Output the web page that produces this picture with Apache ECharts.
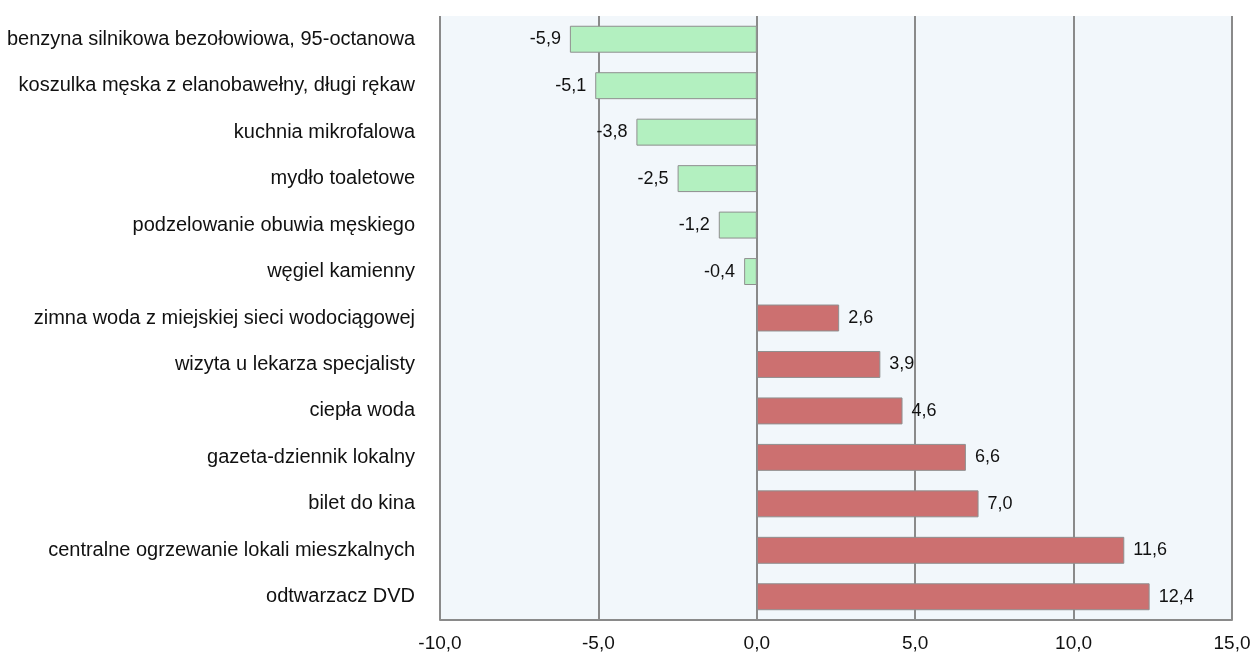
<!DOCTYPE html>
<html><head><meta charset="utf-8">
<script src="https://cdn.jsdelivr.net/npm/echarts@6/dist/echarts.min.js"></script>
<style>html,body{margin:0;padding:0;background:#fff}#c{width:1255px;height:653px}</style>
</head><body><div id="c"></div>
<script>
const categories = [
  "benzyna silnikowa bezołowiowa, 95-octanowa",
  "koszulka męska z elanobawełny, długi rękaw",
  "kuchnia mikrofalowa",
  "mydło toaletowe",
  "podzelowanie obuwia męskiego",
  "węgiel kamienny",
  "zimna woda z miejskiej sieci wodociągowej",
  "wizyta u lekarza specjalisty",
  "ciepła woda",
  "gazeta-dziennik lokalny",
  "bilet do kina",
  "centralne ogrzewanie lokali mieszkalnych",
  "odtwarzacz DVD"
];
const values = [-5.9, -5.1, -3.8, -2.5, -1.2, -0.4, 2.6, 3.9, 4.6, 6.6, 7.0, 11.6, 12.4];
const xTicks = [-10, -5, 0, 5, 10, 15];

const fmt = v => v.toFixed(1).replace('.', ',');
const chart = echarts.init(document.getElementById('c'), null, {renderer: 'canvas'});
chart.setOption({
  animation: false,
  grid: {left: 440, right: 23, top: 16, bottom: 33, show: true, backgroundColor: '#f2f7fb', borderWidth: 0},
  xAxis: {
    type: 'value', min: xTicks[0], max: xTicks[xTicks.length - 1], interval: 5,
    axisLine: {show: true, lineStyle: {color: '#8a8a8a', width: 2}},
    axisTick: {show: false},
    splitLine: {show: true, lineStyle: {color: '#8a8a8a', width: 2}},
    axisLabel: {formatter: v => fmt(v), color: '#111', fontSize: 19, fontFamily: 'Liberation Sans', margin: 14}
  },
  yAxis: {
    type: 'category', data: categories, inverse: true,
    axisLine: {show: false}, axisTick: {show: false}, splitLine: {show: false},
    axisLabel: {color: '#111', fontSize: 20, fontFamily: 'Liberation Sans', margin: 25}
  },
  series: [{
    type: 'bar', barCategoryGap: '42%',
    data: values.map(v => ({
      value: v,
      itemStyle: {color: v < 0 ? '#b3f0c0' : '#cc7070', borderColor: '#8f8f8f', borderWidth: 1},
      label: {show: true, position: v < 0 ? 'left' : 'right', formatter: () => fmt(v), color: '#111', fontSize: 18, fontFamily: 'Liberation Sans', distance: 9}
    }))
  }]
});
</script></body></html>
